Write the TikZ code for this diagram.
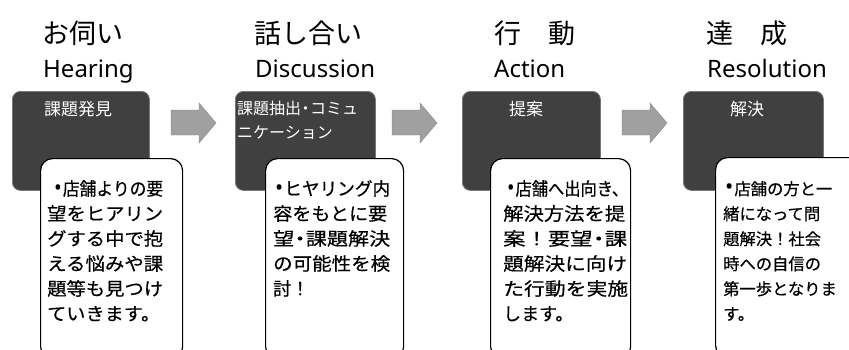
\documentclass[tikz,border=0pt]{standalone}
\usepackage{fontspec}
\usepackage{graphicx}
\setmainfont{Noto Sans CJK JP}
\newfontfamily\latinfont{Noto Sans}
\newfontfamily\bodyfont[FakeBold=0.4]{Noto Sans CJK JP}
\newcommand{\fl}[2]{\resizebox{#1}{\height}{#2}}
\newcommand{\blt}{{\latinfont\fontsize{22}{25}\selectfont •}\hspace{1pt}}
\newcommand{\nd}{\makebox[0.55em]{・}}
\definecolor{darkfill}{RGB}{64,64,64}
\definecolor{darkedge}{RGB}{120,120,120}
\definecolor{arrowgray}{RGB}{160,160,160}
\begin{document}
\begin{tikzpicture}[x=1pt,y=-1pt,
  jptitle/.style={anchor=west, inner sep=0pt, font=\fontsize{27}{30}\selectfont},
  entitle/.style={anchor=base west, inner sep=0pt, font=\latinfont\fontsize{24}{28}\selectfont},
  darkbox/.style={draw=darkedge, fill=darkfill, rounded corners=8pt, line width=0.8pt, anchor=north west, minimum height=99pt, inner sep=0pt},
  darktext/.style={text=white, inner sep=0pt, align=left, font=\fontsize{17}{24}\selectfont},
  notebox/.style={draw=black, fill=white, rounded corners=12pt, line width=1.2pt, anchor=north west, minimum height=200pt, inner sep=0pt},
  notetext/.style={anchor=north west, inner sep=0pt, align=left, text=black, font=\bodyfont\fontsize{18}{25}\selectfont},
  blockarrow/.style={fill=arrowgray, draw=arrowgray!85!black, line width=0.4pt}
]
\useasboundingbox (0,0) rectangle (849,349);
\clip (0,0) rectangle (849,349);

% titles
\node[jptitle] (t1) at (42,33) {お伺い};
\node[entitle] (e1) at (43,77) {Hearing};
\node[jptitle] (t2) at (254,33) {話し合い};
\node[entitle] (e2) at (255,77) {Discussion};
\node[jptitle] (t3) at (494,33) {行　動};
\node[entitle] (e3) at (494,77) {Action};
\node[jptitle] (t4) at (706,33) {達　成};
\node[entitle] (e4) at (707,77) {Resolution};

% dark boxes
\node[darkbox, minimum width=137pt] (d1) at (12,91) {};
\node[darkbox, minimum width=140pt] (d2) at (235,91) {};
\node[darkbox, minimum width=138pt] (d3) at (462,91) {};
\node[darkbox, minimum width=140pt] (d4) at (683,91) {};

\node[darktext] (dt1) at (78,109) {課題発見};
\node[darktext, anchor=north west, font=\fontsize{16}{24}\selectfont] (dt2) at (237,101) {課題抽出\nd コミュ\\ニケーション};
\node[darktext] (dt3) at (526,109) {提案};
\node[darktext] (dt4) at (747,109) {解決};

% block arrows
\foreach \x in {171, 392, 622}{
  \fill[blockarrow] (\x,110) -- ++(28,0) -- ++(0,-7) -- ++(17,20) -- ++(-17,20) -- ++(0,-8) -- ++(-28,0) -- cycle;
}

% note boxes
\node[notebox, minimum width=142pt] (w1) at (40,158) {};
\node[notebox, minimum width=138pt] (w2) at (265,158) {};
\node[notebox, minimum width=140pt] (w3) at (490,158) {};
\node[notebox, minimum width=150pt] (w4) at (715,157) {};

\node[notetext] (n1) at (47,180)
  {\hspace*{7pt}\fl{109pt}{\blt 店舗よりの要}\\
   \fl{116pt}{望をヒアリン}\\
   \fl{116pt}{グする中で抱}\\
   \fl{116pt}{える悩みや課}\\
   \fl{116pt}{題等も見つけ}\\
   \fl{113pt}{ていきます。}};
\node[notetext] (n2) at (273,180)
  {\hspace*{2pt}\fl{115pt}{\blt ヒヤリング内}\\
   \fl{114pt}{容をもとに要}\\
   \fl{117pt}{望\nd 課題解決}\\
   \fl{117pt}{の可能性を検}\\
   討！};
\node[notetext] (n3) at (503,180)
  {\hspace*{4pt}\fl{121pt}{\blt 店舗へ出向き、}\\
   \fl{122pt}{解決方法を提}\\
   \fl{124pt}{案！要望\nd 課}\\
   \fl{124pt}{題解決に向け}\\
   \fl{125pt}{た行動を実施}\\
   します。};
\node[notetext, font=\bodyfont\fontsize{16.3}{25}\selectfont] (n4) at (723,181)
  {\hspace*{2pt}\blt 店舗の方と一\\
   緒になって問\\
   題解決！社会\\
   時への自信の\\
   第一歩となりま\\
   す。};
\end{tikzpicture}
\end{document}
